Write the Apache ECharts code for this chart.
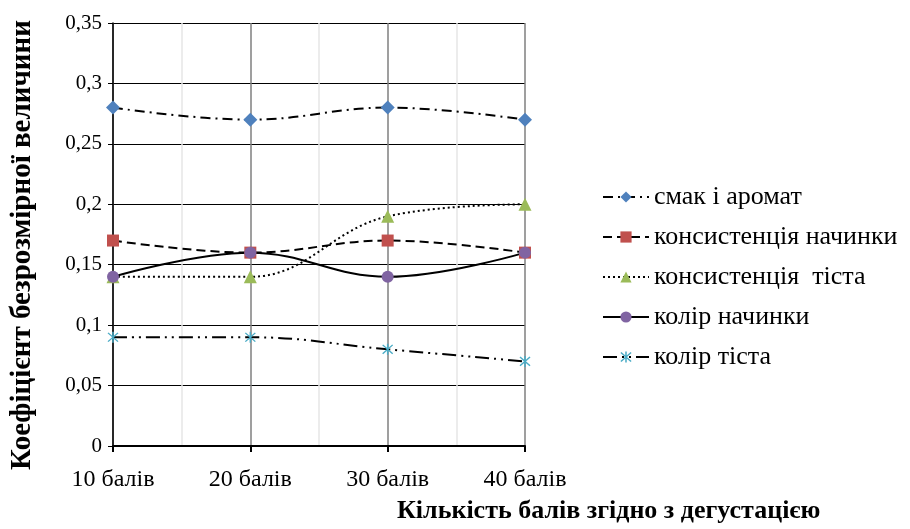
<!DOCTYPE html>
<html><head><meta charset="utf-8">
<script src="https://cdn.jsdelivr.net/npm/echarts@6/dist/echarts.min.js"></script>
<style>html,body{margin:0;padding:0;background:#fff}#c{width:910px;height:529px}</style>
</head><body><div id="c"></div>
<script>
const categories = ['10 балів', '20 балів', '30 балів', '40 балів'];
const seriesNames = ['смак і аромат', 'консистенція начинки', 'консистенція  тіста', 'колір начинки', 'колір тіста'];
const smak = [0.28, 0.27, 0.28, 0.27];
const konsNachynky = [0.17, 0.16, 0.17, 0.16];
const konsTista = [0.14, 0.14, 0.19, 0.20];
const kolirNachynky = [0.14, 0.16, 0.14, 0.16];
const kolirTista = [0.09, 0.09, 0.08, 0.07];
const yTitle = 'Коефіцієнт безрозмірної величини';
const xTitle = 'Кількість балів згідно з дегустацією';

const FONT = 'Liberation Serif';
const star = 'path://M4.4 0L5.6 0L5.6 10L4.4 10Z M0.6 1.4L1.4 0.6L9.4 8.6L8.6 9.4Z M8.6 0.6L9.4 1.4L1.4 9.4L0.6 8.6Z';

function mk(name, data, dash, symbol, size, color) {
  return {
    name, type: 'line', data, smooth: 0.4, xAxisIndex: 0,
    symbol, symbolSize: size,
    itemStyle: { color },
    lineStyle: { color: '#000', width: 2, type: dash },
    emphasis: { disabled: true }
  };
}

const chart = echarts.init(document.getElementById('c'));
chart.setOption({
  animation: false,
  backgroundColor: '#fff',
  textStyle: { fontFamily: FONT, color: '#000' },
  title: [
    { text: xTitle, left: 397, top: 498, padding: 0,
      textStyle: { fontFamily: FONT, fontSize: 26, fontWeight: 'bold', color: '#000' } }
  ],
  graphic: [
    { type: 'text', rotation: Math.PI / 2, x: 23, y: 245,
      style: { text: yTitle, fontFamily: FONT, fontSize: 29, fontWeight: 'bold', fill: '#000', align: 'center', verticalAlign: 'middle' } }
  ],
  legend: {
    orient: 'vertical', left: 602, top: 184, itemGap: 14, itemWidth: 46, itemHeight: 14,
    padding: 0,
    textStyle: { fontFamily: FONT, fontSize: 26, color: '#000' },
    data: seriesNames
  },
  grid: { left: 113, right: 385, top: 23, bottom: 83, containLabel: false },
  xAxis: [
    { type: 'category', data: categories, boundaryGap: false,
      axisLine: { lineStyle: { color: '#000', width: 2 } },
      axisTick: { show: true, alignWithLabel: true, length: 6, lineStyle: { color: '#000', width: 2 } },
      axisLabel: { fontFamily: FONT, fontSize: 24, color: '#000', margin: 22 },
      splitLine: { show: false } },
    { type: 'value', min: 0, max: 3, interval: 0.5, show: true,
      axisLine: { show: false }, axisTick: { show: false }, axisLabel: { show: false },
      splitLine: { show: true, lineStyle: { color: ['#7f7f7f', '#e6e6e6'], width: 1.5 } } }
  ],
  yAxis: {
    type: 'value', min: 0, max: 0.35, interval: 0.05,
    axisLine: { show: true, lineStyle: { color: '#000', width: 1.5 } },
    axisTick: { show: true, length: 5, lineStyle: { color: '#000' } },
    axisLabel: { fontFamily: FONT, fontSize: 21, color: '#000', margin: 11,
      formatter: v => String(+v.toFixed(2)).replace('.', ',') },
    splitLine: { show: true, lineStyle: { color: '#000', width: 1 } }
  },
  series: [
    mk(seriesNames[0], smak, [10, 5, 2, 5], 'diamond', 14, '#4f81bd'),
    mk(seriesNames[1], konsNachynky, [9, 5], 'rect', 12, '#c0504d'),
    mk(seriesNames[2], konsTista, [2, 3], 'triangle', 13, '#9bbb59'),
    mk(seriesNames[3], kolirNachynky, 'solid', 'circle', 12, '#8064a2'),
    mk(seriesNames[4], kolirTista, [14, 5, 2, 5, 2, 5], star, 11, '#4bacc6')
  ]
});
</script></body></html>
